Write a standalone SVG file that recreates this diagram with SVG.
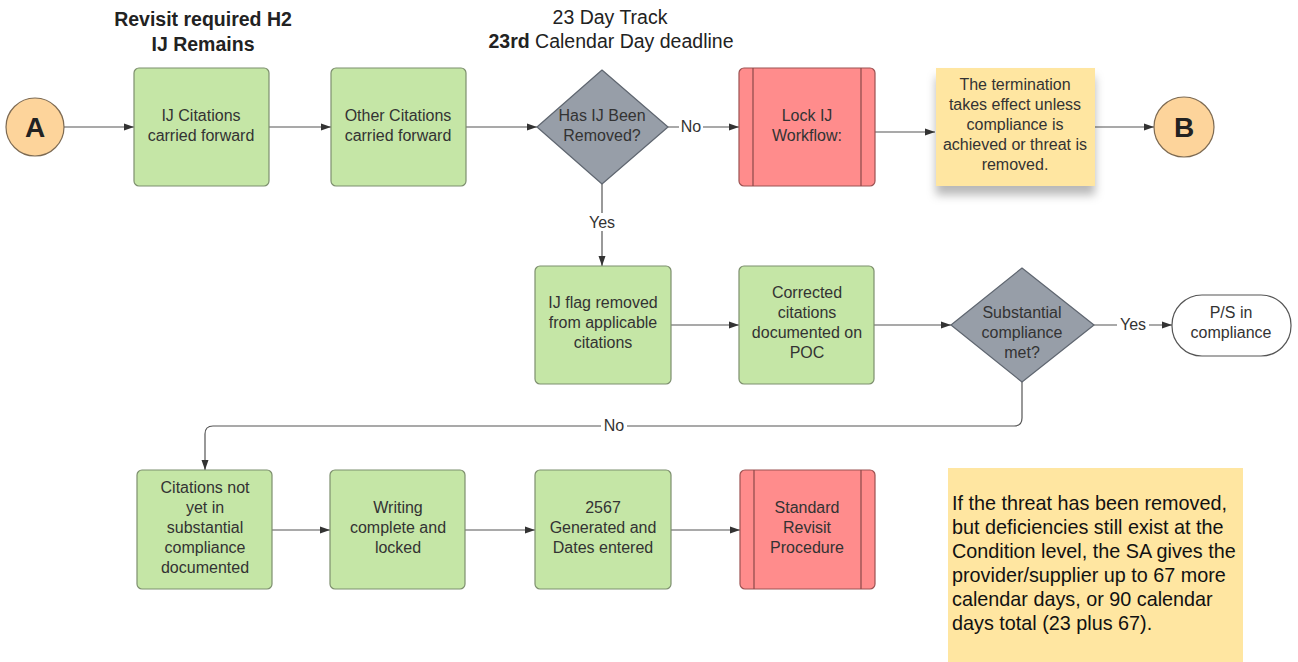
<svg xmlns="http://www.w3.org/2000/svg" width="1298" height="662" viewBox="0 0 1298 662">
<style>
text{font-family:"Liberation Sans",Arial,sans-serif;}
.t{font-size:16px;fill:#333;text-anchor:middle;}
.h{font-size:19.5px;fill:#222;text-anchor:middle;}
.b{font-weight:bold;}
.green{fill:#c5e6a6;stroke:#7d8f6e;stroke-width:1.2;}
.red{fill:#ff8c8c;stroke:#9c5252;stroke-width:1.2;}
.redl{stroke:#8c4a4a;stroke-width:1.2;fill:none;}
.dia{fill:#979ea8;stroke:#5f6670;stroke-width:1.2;}
.circ{fill:#fdd49b;stroke:#7d6a52;stroke-width:1.2;}
.term{fill:#fff;stroke:#555;stroke-width:1.2;}
.note{fill:#ffe6a1;}
.c{fill:none;stroke:#555;stroke-width:1.2;}
.lbl{font-size:16px;fill:#333;text-anchor:middle;}
.lb{fill:#fff;}
</style>
<defs>
<marker id="arr" viewBox="0 0 10 10" refX="10" refY="5" markerWidth="10" markerHeight="10" markerUnits="userSpaceOnUse" orient="auto">
<path d="M0,1.5 L10,5 L0,8.5 z" fill="#333"/>
</marker>
<filter id="shadow" x="-20%" y="-20%" width="140%" height="160%">
<feDropShadow dx="0" dy="9" stdDeviation="5" flood-color="#000" flood-opacity="0.28"/>
</filter>
</defs>
<rect width="1298" height="662" fill="#fff"/>

<g id="titles">
<text class="h b" x="203" y="26">Revisit required H2</text>
<text class="h b" x="203" y="51">IJ Remains</text>
<text class="h" x="610" y="24">23 Day Track</text>
<text class="h" x="611" y="48"><tspan font-weight="bold">23rd</tspan> Calendar Day deadline</text>
</g>

<g id="connectors">
<path class="c" d="M64,127 H134" marker-end="url(#arr)"/>
<path class="c" d="M269,127 H331" marker-end="url(#arr)"/>
<path class="c" d="M466,127 H537" marker-end="url(#arr)"/>
<path class="c" d="M668,127 H739" marker-end="url(#arr)"/>
<path class="c" d="M875,132 H935" marker-end="url(#arr)"/>
<path class="c" d="M1095,127 H1154" marker-end="url(#arr)"/>
<path class="c" d="M602,184 V266" marker-end="url(#arr)"/>
<path class="c" d="M671,325 H739" marker-end="url(#arr)"/>
<path class="c" d="M874,325 H951" marker-end="url(#arr)"/>
<path class="c" d="M1094,325 H1172" marker-end="url(#arr)"/>
<path class="c" d="M1022,382 V418 Q1022,426 1014,426 H213 Q205,426 205,434 V470" marker-end="url(#arr)"/>
<path class="c" d="M272,530 H330" marker-end="url(#arr)"/>
<path class="c" d="M465,530 H535" marker-end="url(#arr)"/>
<path class="c" d="M671,530 H740" marker-end="url(#arr)"/>
<rect class="lb" x="679" y="117" width="24" height="18"/>
<text class="lbl" x="691" y="132">No</text>
<rect class="lb" x="586" y="213" width="32" height="18"/>
<text class="lbl" x="602" y="228">Yes</text>
<rect class="lb" x="1117" y="316" width="32" height="18"/>
<text class="lbl" x="1133" y="330">Yes</text>
<rect class="lb" x="601" y="417" width="26" height="18"/>
<text class="lbl" x="614" y="431">No</text>
</g>

<g id="nodeA">
<circle class="circ" cx="35" cy="127" r="29"/>
<text x="35" y="137" font-size="28" font-weight="bold" fill="#222" text-anchor="middle">A</text>
</g>
<g id="ijCitations">
<rect class="green" x="134" y="68" width="135" height="118" rx="5"/>
<text class="t" x="201" y="121">IJ Citations</text>
<text class="t" x="201" y="141">carried forward</text>
</g>
<g id="otherCitations">
<rect class="green" x="331" y="68" width="135" height="118" rx="5"/>
<text class="t" x="398" y="121">Other Citations</text>
<text class="t" x="398" y="141">carried forward</text>
</g>
<g id="ijRemoved">
<path class="dia" d="M602,70 L668,127 L602,184 L537,127 Z" stroke-linejoin="round"/>
<text class="t" x="602" y="121">Has IJ Been</text>
<text class="t" x="602" y="141">Removed?</text>
</g>
<g id="lockIJ">
<rect class="red" x="739" y="68" width="136" height="118" rx="5"/>
<path class="redl" d="M753,68 V186 M861,68 V186"/>
<text class="t" x="807" y="121">Lock IJ</text>
<text class="t" x="807" y="141">Workflow:</text>
</g>
<g id="terminationNote">
<rect class="note" x="936" y="68" width="159" height="118" filter="url(#shadow)"/>
<text class="t" x="1015" y="90">The termination</text>
<text class="t" x="1015" y="110">takes effect unless</text>
<text class="t" x="1015" y="130">compliance is</text>
<text class="t" x="1015" y="150">achieved or threat is</text>
<text class="t" x="1015" y="170">removed.</text>
</g>
<g id="nodeB">
<circle class="circ" cx="1184" cy="127" r="30"/>
<text x="1184" y="137" font-size="28" font-weight="bold" fill="#222" text-anchor="middle">B</text>
</g>
<g id="ijFlag">
<rect class="green" x="535" y="266" width="136" height="118" rx="5"/>
<text class="t" x="603" y="308">IJ flag removed</text>
<text class="t" x="603" y="328">from applicable</text>
<text class="t" x="603" y="348">citations</text>
</g>
<g id="corrected">
<rect class="green" x="739" y="266" width="135" height="118" rx="5"/>
<text class="t" x="807" y="298">Corrected</text>
<text class="t" x="807" y="318">citations</text>
<text class="t" x="807" y="338">documented on</text>
<text class="t" x="807" y="358">POC</text>
</g>
<g id="substantial">
<path class="dia" d="M1022,268 L1094,325 L1022,382 L951,325 Z" stroke-linejoin="round"/>
<text class="t" x="1022" y="318">Substantial</text>
<text class="t" x="1022" y="338">compliance</text>
<text class="t" x="1022" y="358">met?</text>
</g>
<g id="psCompliance">
<rect class="term" x="1172" y="295" width="119" height="61" rx="30"/>
<text class="t" x="1231" y="318">P/S in</text>
<text class="t" x="1231" y="338">compliance</text>
</g>
<g id="citationsNotYet">
<rect class="green" x="137" y="470" width="135" height="119" rx="5"/>
<text class="t" x="205" y="493">Citations not</text>
<text class="t" x="205" y="513">yet in</text>
<text class="t" x="205" y="533">substantial</text>
<text class="t" x="205" y="553">compliance</text>
<text class="t" x="205" y="573">documented</text>
</g>
<g id="writing">
<rect class="green" x="330" y="470" width="135" height="119" rx="5"/>
<text class="t" x="398" y="513">Writing</text>
<text class="t" x="398" y="533">complete and</text>
<text class="t" x="398" y="553">locked</text>
</g>
<g id="form2567">
<rect class="green" x="535" y="470" width="136" height="119" rx="5"/>
<text class="t" x="603" y="513">2567</text>
<text class="t" x="603" y="533">Generated and</text>
<text class="t" x="603" y="553">Dates entered</text>
</g>
<g id="standardRevisit">
<rect class="red" x="740" y="470" width="135" height="119" rx="5"/>
<path class="redl" d="M754,470 V589 M861,470 V589"/>
<text class="t" x="807" y="513">Standard</text>
<text class="t" x="807" y="533">Revisit</text>
<text class="t" x="807" y="553">Procedure</text>
</g>
<g id="infoNote">
<rect class="note" x="948" y="468" width="295" height="194"/>
<g font-size="19.8" fill="#111">
<text x="952" y="510">If the threat has been removed,</text>
<text x="952" y="534">but deficiencies still exist at the</text>
<text x="952" y="558">Condition level, the SA gives the</text>
<text x="952" y="582">provider/supplier up to 67 more</text>
<text x="952" y="606">calendar days, or 90 calendar</text>
<text x="952" y="630">days total (23 plus 67).</text>
</g>
</g>
</svg>
